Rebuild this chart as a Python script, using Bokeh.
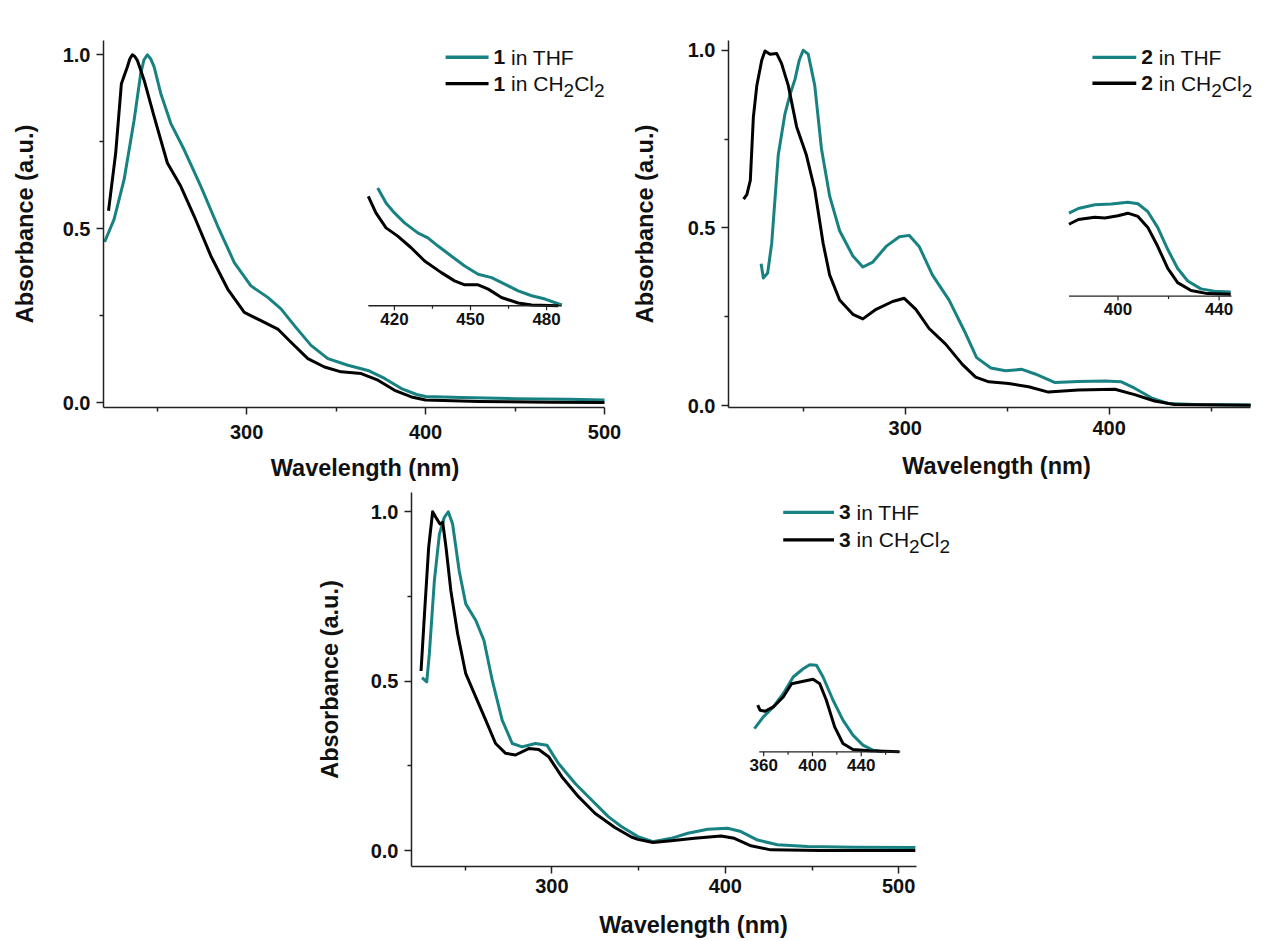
from bokeh.plotting import figure
from bokeh.models import Range1d, FixedTicker, NumeralTickFormatter, Label, Spacer
from bokeh.layouts import row, column
from bokeh.embed import file_html
from bokeh.resources import INLINE
from bokeh.core.properties import value

TEAL = "#188282"
BLACK = "#000000"
FONT = "Liberation Sans"
LW = 3

# ---------------- Panel 1 ----------------
p1_thf_nm = [220.6, 225.9, 231.5, 237.1, 240.8, 242.6, 244.5, 246.4, 248.3, 252.0, 257.6, 265.1,
             274.4, 283.8, 293.1, 302.4, 311.8, 319.2, 326.7, 336.0, 345.4, 356.6, 367.8, 377.1,
             386.5, 395.0, 400.0, 420.0, 450.0, 480.0, 500.0]
p1_thf_abs = [0.462, 0.527, 0.641, 0.812, 0.946, 0.985, 1.000, 0.988, 0.965, 0.889, 0.803, 0.727,
              0.622, 0.508, 0.403, 0.336, 0.303, 0.270, 0.222, 0.165, 0.127, 0.108, 0.093, 0.070,
              0.041, 0.024, 0.018, 0.015, 0.012, 0.010, 0.008]
p1_dcm_nm = [222.8, 223.0, 226.8, 230.0, 233.3, 234.7, 236.1, 237.5, 238.9, 242.7, 248.3, 255.7,
             263.2, 270.7, 280.0, 289.4, 298.7, 308.0, 317.4, 324.8, 334.2, 343.5, 352.8, 364.0,
             373.4, 382.7, 392.1, 400.0, 430.0, 470.0, 500.0]
p1_dcm_abs = [0.552, 0.560, 0.717, 0.917, 0.965, 0.988, 1.000, 0.995, 0.984, 0.927, 0.822, 0.689,
              0.622, 0.536, 0.422, 0.327, 0.260, 0.236, 0.212, 0.174, 0.127, 0.103, 0.089, 0.084,
              0.065, 0.036, 0.017, 0.008, 0.004, 0.002, 0.001]
# inset 1 (magnified, arbitrary units)
i1_thf_nm = [413.4, 416.7, 420.0, 424.0, 429.2, 433.2, 437.2, 442.4, 447.7, 453.0, 458.3, 463.5,
             468.8, 474.1, 479.4, 486.0]
i1_thf_val = [1.183, 1.033, 0.933, 0.833, 0.733, 0.683, 0.600, 0.500, 0.400, 0.317, 0.283, 0.217,
              0.150, 0.100, 0.067, 0.007]
i1_dcm_nm = [409.7, 412.7, 416.7, 421.3, 426.6, 431.9, 438.5, 443.7, 447.7, 453.0, 457.0, 462.2,
             468.8, 474.1, 484.6]
i1_dcm_val = [1.100, 0.933, 0.783, 0.700, 0.583, 0.450, 0.333, 0.250, 0.210, 0.210, 0.167, 0.083,
              0.027, 0.007, 0.000]

# ---------------- Panel 2 ----------------
p2_thf_nm = [229.3, 230.4, 232.5, 234.5, 237.7, 241.0, 243.4, 245.9, 248.0, 249.9, 252.4, 255.6,
             258.9, 262.9, 267.8, 274.3, 279.2, 284.1, 290.6, 297.1, 302.0, 306.8, 313.3, 321.5,
             329.0, 335.0, 342.0, 349.1, 357.2, 363.7, 373.5, 384.9, 397.9, 406.0, 412.5, 420.7,
             428.8, 441.8, 469.4]
p2_thf_abs = [0.399, 0.359, 0.373, 0.457, 0.705, 0.821, 0.874, 0.918, 0.972, 1.000, 0.989, 0.901,
              0.723, 0.590, 0.492, 0.421, 0.390, 0.404, 0.448, 0.475, 0.479, 0.448, 0.368, 0.297,
              0.210, 0.135, 0.106, 0.098, 0.102, 0.089, 0.065, 0.068, 0.069, 0.067, 0.049, 0.022,
              0.006, 0.003, 0.002]
p2_dcm_nm = [220.7, 222.3, 224.0, 225.5, 227.2, 229.6, 231.2, 233.7, 236.9, 239.3, 242.6, 246.7,
             251.5, 255.6, 259.7, 262.9, 267.8, 274.3, 279.2, 285.7, 293.8, 299.5, 305.2, 311.7,
             319.8, 328.0, 334.5, 341.0, 350.7, 360.5, 370.2, 384.9, 402.8, 412.5, 422.3, 432.0,
             469.4]
p2_dcm_abs = [0.581, 0.594, 0.634, 0.812, 0.901, 0.972, 0.998, 0.989, 0.991, 0.963, 0.901, 0.785,
              0.705, 0.608, 0.457, 0.368, 0.297, 0.257, 0.244, 0.271, 0.293, 0.302, 0.271, 0.217,
              0.173, 0.116, 0.080, 0.067, 0.062, 0.053, 0.038, 0.044, 0.046, 0.031, 0.013, 0.003,
              0.001]
i2_thf_nm = [380.6, 384.3, 390.8, 397.4, 403.9, 407.9, 411.8, 415.7, 419.7, 423.6, 427.6, 432.8,
             438.1, 444.6]
i2_thf_val = [0.877, 0.927, 0.967, 0.973, 0.993, 0.977, 0.893, 0.727, 0.493, 0.293, 0.160, 0.077,
              0.053, 0.043]
i2_dcm_nm = [380.6, 384.3, 390.8, 394.8, 400.0, 403.9, 407.9, 411.8, 415.7, 419.7, 423.6, 428.9,
             435.4, 444.6]
i2_dcm_val = [0.760, 0.810, 0.833, 0.827, 0.850, 0.877, 0.843, 0.727, 0.527, 0.293, 0.143, 0.060,
              0.027, 0.020]

# ---------------- Panel 3 ----------------
p3_thf_nm = [225.1, 226.5, 227.8, 229.3, 232.2, 235.1, 237.9, 240.2, 242.7, 246.5, 250.3, 256.1,
             260.8, 265.6, 271.3, 277.1, 282.8, 290.4, 297.1, 303.8, 313.4, 322.9, 332.5, 340.0,
             349.6, 358.2, 368.8, 378.4, 389.8, 401.3, 409.0, 418.6, 430.1, 447.3, 474.1, 509.6]
p3_thf_abs = [0.510, 0.504, 0.498, 0.581, 0.797, 0.934, 0.983, 1.000, 0.964, 0.826, 0.728, 0.679,
              0.620, 0.502, 0.385, 0.316, 0.306, 0.316, 0.311, 0.257, 0.198, 0.149, 0.100, 0.071,
              0.041, 0.026, 0.036, 0.051, 0.063, 0.066, 0.056, 0.031, 0.017, 0.012, 0.010, 0.009]
p3_dcm_nm = [224.5, 226.5, 228.9, 231.2, 233.1, 235.4, 237.0, 238.9, 241.7, 245.6, 250.3, 256.1,
             261.8, 267.5, 273.3, 279.0, 286.6, 292.4, 298.1, 305.7, 315.3, 324.8, 336.3, 345.8,
             349.6, 358.2, 368.8, 382.2, 397.5, 405.2, 414.8, 426.2, 455.0, 509.6]
p3_dcm_abs = [0.530, 0.699, 0.895, 1.000, 0.983, 0.964, 0.969, 0.895, 0.767, 0.640, 0.522, 0.453,
              0.385, 0.316, 0.287, 0.282, 0.301, 0.298, 0.277, 0.218, 0.159, 0.110, 0.068, 0.040,
              0.033, 0.024, 0.029, 0.036, 0.043, 0.036, 0.014, 0.002, 0.000, 0.000]
i3_thf_nm = [352.4, 359.7, 367.9, 376.0, 384.2, 392.4, 397.8, 403.3, 408.7, 416.9, 425.0, 433.2,
             441.4, 449.5, 457.7]
i3_thf_val = [0.233, 0.350, 0.450, 0.583, 0.750, 0.833, 0.873, 0.867, 0.750, 0.517, 0.317, 0.167,
              0.067, 0.017, 0.000]
i3_dcm_nm = [355.1, 357.0, 361.1, 367.9, 376.0, 382.9, 389.7, 396.5, 400.5, 406.0, 411.4, 418.2,
             425.0, 433.2, 446.8, 471.3]
i3_dcm_val = [0.467, 0.417, 0.407, 0.450, 0.550, 0.683, 0.700, 0.717, 0.727, 0.683, 0.517, 0.250,
              0.083, 0.023, 0.010, 0.000]

y_ticks = [0.0, 0.5, 1.0]
y_minor = [0.25, 0.75]


def style_axes(p, xticks, xminor, xbounds, lab_stand, title_stand, ytitle_stand):
    p.xaxis.ticker = FixedTicker(ticks=xticks, minor_ticks=xminor)
    p.yaxis.ticker = FixedTicker(ticks=y_ticks, minor_ticks=y_minor)
    p.yaxis.formatter = NumeralTickFormatter(format="0.0")
    p.xaxis.formatter = NumeralTickFormatter(format="0")
    p.xaxis.bounds = xbounds
    for ax in (p.xaxis[0], p.yaxis[0]):
        ax.axis_line_color = "#222222"
        ax.axis_line_width = 1.5
        ax.major_tick_line_color = "#222222"
        ax.major_tick_line_width = 1.5
        ax.major_tick_in = 0
        ax.major_tick_out = 7
        ax.minor_tick_line_color = "#222222"
        ax.minor_tick_line_width = 1.5
        ax.minor_tick_in = 0
        ax.minor_tick_out = 4
        ax.major_label_text_font = FONT
        ax.major_label_text_font_size = "20px"
        ax.major_label_text_font_style = "bold"
        ax.major_label_text_color = "#111111"
        ax.axis_label_text_font = FONT
        ax.axis_label_text_font_size = "23.5px"
        ax.axis_label_text_font_style = "bold"
        ax.axis_label_text_color = "#111111"
    p.xaxis.axis_label = "Wavelength (nm)"
    p.yaxis.axis_label = "Absorbance (a.u.)"
    p.xaxis.major_label_standoff = lab_stand
    p.yaxis.major_label_standoff = 6
    p.xaxis.axis_label_standoff = title_stand
    p.yaxis.axis_label_standoff = ytitle_stand
    p.xgrid.grid_line_color = None
    p.ygrid.grid_line_color = None
    p.outline_line_color = None


def make_fig(w, h, xr, yr, bl, br, bt, bb):
    p = figure(width=w, height=h, x_range=Range1d(*xr), y_range=Range1d(*yr),
               output_backend="svg", toolbar_location=None,
               min_border_left=bl, min_border_right=br, min_border_top=bt, min_border_bottom=bb)
    p.background_fill_color = "white"
    p.border_fill_color = "white"
    return p


def add_inset(p, box, thf, dcm, major, minor):
    x0m, x1m, a, b, y0m, unit = box
    k = (b - a) / (x1m - x0m)
    xr, yr = p.x_range, p.y_range
    p.extra_x_ranges = {"ix": Range1d(a + (xr.start - x0m) * k, a + (xr.end - x0m) * k)}
    p.extra_y_ranges = {"iy": Range1d((yr.start - y0m) / unit, (yr.end - y0m) / unit)}
    kw = dict(x_range_name="ix", y_range_name="iy")
    p.line(thf[0], thf[1], line_color=TEAL, line_width=LW, line_join="round", **kw)
    p.line(dcm[0], dcm[1], line_color=BLACK, line_width=LW, line_join="round", **kw)
    p.segment(x0=[a], y0=[0], x1=[b], y1=[0], line_color="#222222", line_width=1.3, **kw)
    p.segment(x0=major, y0=[0] * len(major), x1=major, y1=[-0.045] * len(major),
              line_color="#222222", line_width=1.2, **kw)
    p.segment(x0=minor, y0=[0] * len(minor), x1=minor, y1=[-0.03] * len(minor),
              line_color="#222222", line_width=1.2, **kw)
    p.text(x=major, y=[-0.07] * len(major), text=[str(t) for t in major],
           text_font=value(FONT), text_font_size=value("17px"), text_font_style="bold",
           text_color="#111111", text_align="center", text_baseline="top", **kw)


# Arial / Liberation Sans advance widths (per em)
ADV = {" ": 0.278, "i": 0.222, "n": 0.556, "T": 0.611, "H": 0.722, "F": 0.611,
       "C": 0.722, "l": 0.222, "1": 0.556, "2": 0.556, "3": 0.556}


def tw(s, fs):
    return sum(ADV.get(c, 0.556) for c in s) * fs


def add_legend(p, x0, x1, y, num, color, dcm):
    p.segment(x0=[x0], y0=[y], x1=[x1], y1=[y], line_color=color, line_width=3.4)
    fs = 21
    sub = 19
    pieces = [(num, "bold", fs, 0)]
    if dcm:
        pieces += [(" ", None, fs, 0), ("in CH", "normal", fs, 0), ("2", "normal", sub, -7),
                   ("Cl", "normal", fs, 0), ("2", "normal", sub, -7)]
    else:
        pieces += [(" ", None, fs, 0), ("in THF", "normal", fs, 0)]
    off = 5.0
    for txt, style, size, dy in pieces:
        if style is not None:
            p.add_layout(Label(x=x1, y=y, x_offset=off, y_offset=dy, text=txt,
                               text_font=FONT, text_font_size=f"{size}px",
                               text_font_style=style, text_color="#111111",
                               text_baseline="middle", text_align="left"))
        off += tw(txt, size)


# ---------------- build panels ----------------
# panel 1: frame 523 px wide (1.789 px/nm), axis drawn 220-500
p1 = make_fig(620, 482, (220, 512.3), (-0.0134, 1.041), 95, 2, 32, 81)
style_axes(p1, [300, 400, 500], [250, 350, 450], (220, 500), 10, 13, 22)
p1.line(p1_thf_nm, p1_thf_abs, line_color=TEAL, line_width=LW, line_join="round")
p1.line(p1_dcm_nm, p1_dcm_abs, line_color=BLACK, line_width=LW, line_join="round")
add_inset(p1, (368.0, 476.0, 409.7, 485.9, 0.279, 0.2857),
          (i1_thf_nm, i1_thf_val), (i1_dcm_nm, i1_dcm_val), [420, 450, 480], [435, 465])
add_legend(p1, 411.2, 435.2, 0.993, "1", TEAL, False)
add_legend(p1, 411.2, 435.2, 0.917, "1", BLACK, True)

# panel 2: frame 539 px wide (2.05 px/nm), axis drawn 213.3-469.4
p2 = make_fig(638, 482, (213.3, 476.2), (-0.0053, 1.0274), 97, 2, 11, 83)
style_axes(p2, [300, 400], [250, 350, 450], (213.3, 469.4), 6, 15, 27)
p2.line(p2_thf_nm, p2_thf_abs, line_color=TEAL, line_width=LW, line_join="round")
p2.line(p2_dcm_nm, p2_dcm_abs, line_color=BLACK, line_width=LW, line_join="round")
add_inset(p2, (380.3, 460.0, 380.6, 444.9, 0.308, 0.2662),
          (i2_thf_nm, i2_thf_val), (i2_dcm_nm, i2_dcm_val), [400, 440], [420])
add_legend(p2, 391.8, 413.3, 0.980, "2", TEAL, False)
add_legend(p2, 391.8, 413.3, 0.907, "2", BLACK, True)

# panel 3: frame 566 px wide (1.74 px/nm), axis drawn 219-510
p3 = make_fig(664, 450, (219, 544.3), (-0.0471, 1.0568), 96, 2, 2, 73)
style_axes(p3, [300, 400, 500], [250, 350, 450], (219, 510), 5, 16, 25)
p3.line(p3_thf_nm, p3_thf_abs, line_color=TEAL, line_width=LW, line_join="round")
p3.line(p3_dcm_nm, p3_dcm_abs, line_color=BLACK, line_width=LW, line_join="round")
add_inset(p3, (419.6, 500.9, 356.4, 472.0, 0.2914, 0.2944),
          (i3_thf_nm, i3_thf_val), (i3_dcm_nm, i3_dcm_val), [360, 400, 440], [380, 420, 460])
add_legend(p3, 433.4, 462.7, 0.998, "3", TEAL, False)
add_legend(p3, 433.4, 462.7, 0.917, "3", BLACK, True)

layout = column(Spacer(width=10, height=8),
                row(Spacer(width=8, height=10), p1, p2),
                row(Spacer(width=313, height=10), p3))

open("out.html", "w").write(file_html(layout, INLINE))
